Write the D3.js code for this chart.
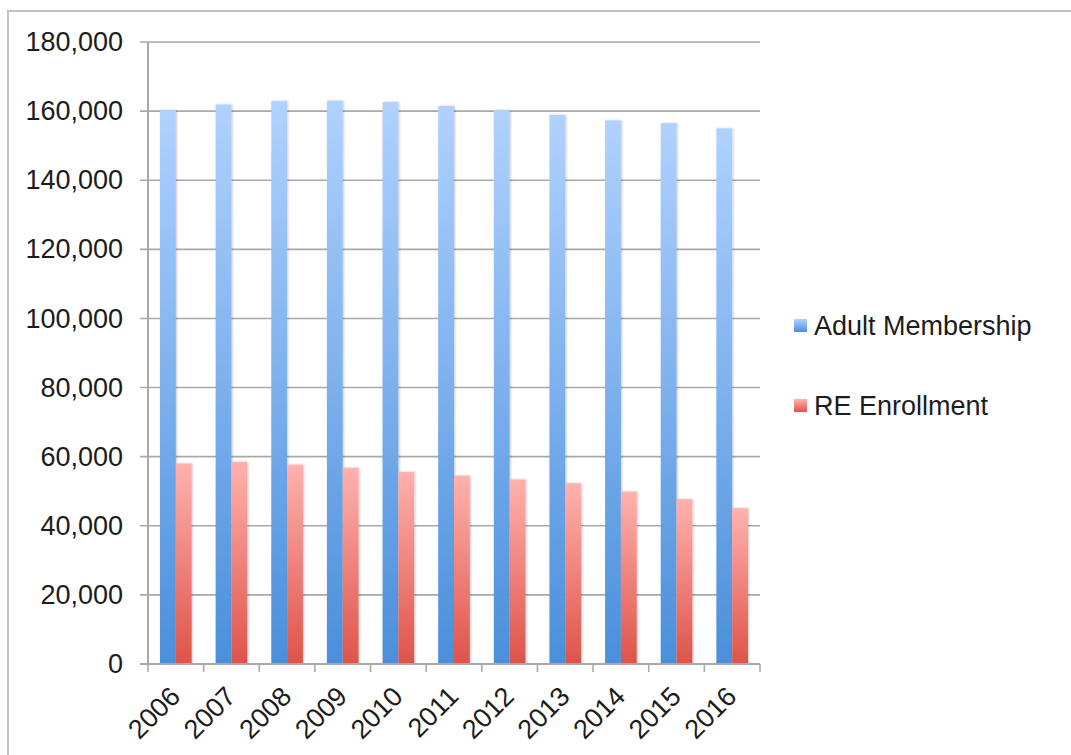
<!DOCTYPE html>
<html>
<head>
<meta charset="utf-8">
<script src="https://cdn.jsdelivr.net/npm/d3@7"></script>
<style>
  html, body { margin: 0; padding: 0; background: #fff; }
  svg { display: block; font-family: "Liberation Sans", Arial, Helvetica, sans-serif; }
</style>
</head>
<body>
<svg id="chart" width="1071" height="755"></svg>
<script>
// Membership and religious-education enrollment, by year
const years = ["2006", "2007", "2008", "2009", "2010", "2011", "2012", "2013", "2014", "2015", "2016"];
const adultMembership = [160300, 161900, 162900, 163000, 162600, 161500, 160300, 158900, 157300, 156500, 155000];
const reEnrollment = [58000, 58500, 57700, 56800, 55600, 54500, 53400, 52300, 49900, 47700, 45100];
const seriesNames = ["Adult Membership", "RE Enrollment"];
const yTicks = [0, 20000, 40000, 60000, 80000, 100000, 120000, 140000, 160000, 180000];

const seriesValues = [adultMembership, reEnrollment];
const rows = years.map((yr, i) => ({ year: yr, values: seriesValues.map(s => s[i]) }));

const svg = d3.select("#chart");
const W = 1071, H = 755;
const plot = { left: 148, right: 760, top: 42, bottom: 664 };
const fontSize = 27;
const textColor = "#1c1c1c";

const x = d3.scaleBand().domain(years).range([plot.left, plot.right]).padding(0);
const xInner = d3.scaleBand().domain(d3.range(seriesNames.length))
  .range([0, x.bandwidth()]).paddingInner(0).paddingOuter(0.76);
const y = d3.scaleLinear().domain([0, 180000]).range([plot.bottom, plot.top]);

// bar gradients: light at the top, saturated at the base
const defs = svg.append("defs");
const gradStops = [
  { id: "gradBlue", top: "#b0d2ff", bottom: "#4a8fdb" },
  { id: "gradRed", top: "#ffb2ae", bottom: "#de5349" }
];
gradStops.forEach(g => {
  const lg = defs.append("linearGradient").attr("id", g.id)
    .attr("x1", 0).attr("y1", 0).attr("x2", 0).attr("y2", 1);
  lg.append("stop").attr("offset", "0%").attr("stop-color", g.top);
  lg.append("stop").attr("offset", "100%").attr("stop-color", g.bottom);
});
const shadow = defs.append("filter").attr("id", "barShadow")
  .attr("x", "-30%").attr("y", "-5%").attr("width", "160%").attr("height", "110%");
shadow.append("feDropShadow").attr("dx", 1).attr("dy", 0).attr("stdDeviation", 1.2)
  .attr("flood-color", "#000").attr("flood-opacity", 0.22);

// outer frame (top and left edges)
svg.append("line").attr("x1", 7).attr("x2", W).attr("y1", 11).attr("y2", 11)
  .attr("stroke", "#c2c2c2").attr("stroke-width", 2);
svg.append("line").attr("x1", 8).attr("x2", 8).attr("y1", 10).attr("y2", H)
  .attr("stroke", "#c2c2c2").attr("stroke-width", 2);

// horizontal gridlines with short ticks left of the axis
svg.append("g").selectAll("line").data(yTicks).join("line")
  .attr("x1", plot.left - 8).attr("x2", plot.right)
  .attr("y1", d => y(d)).attr("y2", d => y(d))
  .attr("stroke", "#a9a9a9").attr("stroke-width", 1.6);

// y axis labels
const yAxis = svg.append("g").attr("transform", `translate(${plot.left},0)`)
  .call(d3.axisLeft(y).tickValues(yTicks).tickFormat(d3.format(",")).tickSize(0).tickPadding(25));
yAxis.select(".domain").remove();
yAxis.selectAll("text").attr("font-size", fontSize).attr("fill", textColor)
  .attr("font-family", "'Liberation Sans', Arial, Helvetica, sans-serif");

// bars
const fills = ["url(#gradBlue)", "url(#gradRed)"];
const groups = svg.append("g").selectAll("g").data(rows).join("g")
  .attr("transform", d => `translate(${x(d.year)},0)`);
groups.selectAll("rect").data(d => d.values.map((v, k) => ({ k, v }))).join("rect")
  .attr("x", d => xInner(d.k))
  .attr("width", xInner.bandwidth())
  .attr("y", d => y(d.v))
  .attr("height", d => y(0) - y(d.v))
  .attr("fill", d => fills[d.k])
  .attr("filter", "url(#barShadow)");

// vertical axis line
svg.append("line").attr("x1", plot.left).attr("x2", plot.left)
  .attr("y1", plot.top).attr("y2", plot.bottom)
  .attr("stroke", "#a9a9a9").attr("stroke-width", 2);

// x axis baseline and category boundary ticks
svg.append("line").attr("x1", plot.left - 8).attr("x2", plot.right)
  .attr("y1", plot.bottom).attr("y2", plot.bottom)
  .attr("stroke", "#a9a9a9").attr("stroke-width", 2);
const boundaries = years.map(yr => x(yr)).concat([x(years[years.length - 1]) + x.bandwidth()]);
svg.append("g").selectAll("line").data(boundaries).join("line")
  .attr("x1", d => d).attr("x2", d => d)
  .attr("y1", plot.bottom).attr("y2", plot.bottom + 8)
  .attr("stroke", "#a9a9a9").attr("stroke-width", 1.6);

// x axis labels, rotated
const xAxis = svg.append("g").attr("transform", `translate(0,${plot.bottom})`)
  .call(d3.axisBottom(x).tickSize(0));
xAxis.select(".domain").remove();
xAxis.selectAll("text")
  .attr("font-size", fontSize).attr("fill", textColor)
  .attr("font-family", "'Liberation Sans', Arial, Helvetica, sans-serif")
  .attr("text-anchor", "end")
  .attr("y", 0).attr("dy", 0)
  .attr("transform", "translate(6,34) rotate(-45)");

// legend
const legendY = [335, 415];
const legend = svg.append("g").selectAll("g").data(seriesNames).join("g")
  .attr("transform", (d, i) => `translate(794,${legendY[i]})`);
legend.append("rect").attr("x", 0).attr("y", -16).attr("width", 13).attr("height", 13)
  .attr("fill", (d, i) => fills[i]);
legend.append("text").attr("x", 20).attr("y", 0)
  .attr("font-size", fontSize).attr("fill", textColor)
  .text(d => d);
</script>
</body>
</html>
